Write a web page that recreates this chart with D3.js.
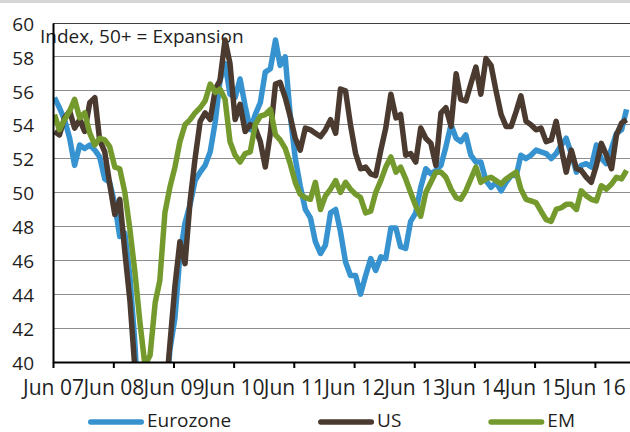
<!DOCTYPE html>
<html>
<head>
<meta charset="utf-8">
<script src="https://cdn.jsdelivr.net/npm/d3@7"></script>
<style>
  body { margin: 0; background: #fff; }
  svg { display: block; font-family: "Open Sans", sans-serif; }
</style>
</head>
<body>
<svg id="chart" width="630" height="432"></svg>
<script>
// monthly PMI readings, Jun 2007 .. Dec 2016
const firstMonth = new Date(2007, 5, 10);

const eurozone = [
  55.6, 55.0, 54.3, 53.2, 51.6, 52.8, 52.6, 52.8, 52.5, 52.1,
  50.8, 50.6, 49.3, 47.4, 47.6, 45.0, 41.1, 35.6, 33.9, 34.4,
  33.5, 33.9, 36.8, 40.7, 42.6, 46.3, 48.2, 49.3, 50.7, 51.2,
  51.6, 52.4, 54.2, 56.6, 57.6, 55.8, 55.6, 56.7, 55.1, 53.7,
  54.6, 55.3, 57.1, 57.3, 59.0, 57.5, 58.0, 54.6, 52.0, 50.4,
  49.0, 48.5, 47.1, 46.4, 46.9, 48.8, 49.0, 47.7, 45.9, 45.1,
  45.1, 44.0, 45.1, 46.1, 45.4, 46.2, 46.1, 47.9, 47.9, 46.8,
  46.7, 48.3, 48.8, 50.3, 51.4, 51.1, 51.3, 51.6, 52.7, 54.0,
  53.2, 53.0, 53.4, 52.2, 51.8, 51.8, 50.7, 50.3, 50.6, 50.1,
  50.6, 51.0, 51.0, 52.2, 52.0, 52.2, 52.5, 52.4, 52.3, 52.0,
  52.3, 52.8, 53.2, 52.3, 51.2, 51.6, 51.7, 51.5, 52.8, 52.0,
  51.7, 52.6, 53.5, 53.7, 54.9
];

const us = [
  53.6, 53.4, 54.4, 54.8, 53.8, 54.3, 53.6, 55.3, 55.6, 53.1,
  52.4, 50.5, 48.7, 49.6, 46.5, 43.6, 39.6, 36.0, 33.5, 32.5,
  33.0, 34.5, 37.5, 41.0, 44.5, 47.1, 45.8, 49.5, 52.0, 54.2,
  54.7, 54.3, 56.1, 56.6, 59.0, 57.6, 54.3, 55.2, 53.6, 54.0,
  53.8, 53.0, 51.5, 53.5, 56.4, 56.5, 55.6, 54.5, 53.2, 52.5,
  53.8, 53.7, 53.5, 53.3, 53.7, 54.3, 53.5, 56.1, 56.0, 54.0,
  52.3, 51.4, 51.5, 51.1, 51.0, 52.5, 53.8, 55.8, 54.4, 54.6,
  52.2, 52.3, 51.8, 53.8, 53.2, 52.9, 51.6, 54.7, 55.0, 53.9,
  57.0, 55.5, 55.4, 56.4, 57.4, 55.8, 57.9, 57.5, 56.0, 54.6,
  53.9, 53.9, 54.8, 55.7, 54.2, 54.0, 53.7, 53.8, 53.0, 53.1,
  54.2, 52.6, 51.2, 52.5, 51.4, 51.3, 50.9, 50.6, 51.6, 52.9,
  52.2, 51.4, 53.4, 54.1, 54.3
];

const em = [
  54.6, 53.7, 54.3, 54.8, 55.5, 54.4, 54.7, 53.5, 52.8, 53.2,
  53.1, 52.7, 51.5, 51.4, 50.0, 47.8, 45.3, 42.3, 39.8, 40.4,
  43.5, 44.8, 48.8, 50.3, 51.5, 53.0, 54.0, 54.3, 54.7, 55.0,
  55.4, 56.4, 55.9, 56.1, 55.5, 53.0, 52.2, 51.8, 52.3, 52.4,
  54.0, 54.5, 54.6, 54.9, 53.4, 53.1, 52.6, 51.7, 50.6, 49.9,
  49.7, 49.6, 50.6, 49.0, 49.8, 50.2, 50.7, 50.0, 50.6, 50.2,
  49.9, 49.7, 48.8, 48.9, 50.0, 50.7, 51.5, 52.1, 51.2, 51.5,
  50.8, 50.0, 49.2, 48.6, 50.0, 50.6, 51.2, 51.2, 50.9, 50.2,
  49.7, 49.6, 50.1, 50.8, 51.5, 50.6, 50.8, 50.9, 50.7, 50.5,
  50.8, 51.0, 51.2, 50.2, 49.6, 49.5, 49.4, 48.9, 48.4, 48.3,
  49.0, 49.1, 49.3, 49.3, 49.0, 50.1, 49.8, 49.6, 49.5, 50.4,
  50.2, 50.5, 50.9, 50.8, 51.3
];

const seriesNames = ["Eurozone", "US", "EM"];
const seriesColors = ["#3793d0", "#4b3a2f", "#749a2d"];
const xTickLabels = ["Jun 07", "Jun 08", "Jun 09", "Jun 10", "Jun 11", "Jun 12", "Jun 13", "Jun 14", "Jun 15", "Jun 16"];
const yTickValues = [40, 42, 44, 46, 48, 50, 52, 54, 56, 58, 60];
const axisTitle = "Index, 50+ = Expansion";

const width = 630;
const height = 432;
const margin = { top: 23, right: 0, bottom: 70, left: 53 };
const textColor = "#1e1e1e";

const svg = d3.select("#chart");

const series = [eurozone, us, em].map((values, k) => ({
  name: seriesNames[k],
  color: seriesColors[k],
  points: values.map((v, i) => ({ date: d3.timeMonth.offset(firstMonth, i), value: v }))
}));

const x = d3
  .scaleTime()
  .domain([new Date(2007, 5, 1), new Date(2016, 11, 31)])
  .range([margin.left, width - margin.right]);

const y = d3
  .scaleLinear()
  .domain([40, 60])
  .range([height - margin.bottom, margin.top]);

const xTickDates = xTickLabels.map((d, i) => new Date(2007 + i, 5, 1));

// thin grey strip along the top
svg.append("rect")
  .attr("x", 0).attr("y", 0)
  .attr("width", width).attr("height", 3)
  .attr("fill", "#d6d6d6");

// gridlines (the 60 line doubles as the frame)
svg.append("g")
  .selectAll("line")
  .data(yTickValues.filter((d) => d > 40))
  .join("line")
  .attr("x1", margin.left)
  .attr("x2", width - margin.right)
  .attr("y1", (d) => y(d))
  .attr("y2", (d) => y(d))
  .attr("stroke", (d) => (d === 60 ? "#404040" : "#8d8d8d"))
  .attr("stroke-width", 1)
  .attr("shape-rendering", "crispEdges");

svg.append("text")
  .attr("x", 40)
  .attr("y", 43)
  .attr("font-size", 19)
  .attr("fill", textColor)
  .text(axisTitle);

svg.append("clipPath")
  .attr("id", "plotClip")
  .append("rect")
  .attr("x", margin.left)
  .attr("y", 0)
  .attr("width", width - margin.left)
  .attr("height", y(40));

const line = d3
  .line()
  .x((d) => x(d.date))
  .y((d) => y(d.value));

svg.append("g")
  .attr("clip-path", "url(#plotClip)")
  .selectAll("path")
  .data(series)
  .join("path")
  .attr("fill", "none")
  .attr("stroke", (d) => d.color)
  .attr("stroke-width", 5.5)
  .attr("stroke-linejoin", "round")
  .attr("d", (d) => line(d.points));

// y axis
const yAxis = svg.append("g")
  .attr("transform", `translate(${margin.left},0)`)
  .call(d3.axisLeft(y).tickValues(yTickValues).tickSize(0).tickPadding(19).tickFormat(d3.format("d")));
yAxis.select(".domain").attr("stroke", "#000").attr("stroke-width", 2);
yAxis.selectAll("text")
  .attr("font-size", 19)
  .attr("font-family", "Open Sans")
  .attr("fill", textColor)
  .attr("dy", "0.38em");

// x axis
const xAxis = svg.append("g")
  .attr("transform", `translate(0,${y(40)})`)
  .call(
    d3.axisBottom(x)
      .tickValues(xTickDates)
      .tickSize(6)
      .tickSizeOuter(0)
      .tickFormat((d, i) => xTickLabels[i])
  );
xAxis.select(".domain").attr("stroke", "#000").attr("stroke-width", 2);
xAxis.selectAll(".tick line").attr("stroke", "#000").attr("stroke-width", 2);
xAxis.selectAll("text")
  .attr("font-size", 21)
  .attr("font-family", "Open Sans")
  .attr("fill", textColor)
  .attr("y", 33)
  .attr("dy", 0);

// legend
const legend = svg.append("g").attr("transform", "translate(0,422)");
let lx = 88;
series.forEach((s) => {
  legend.append("line")
    .attr("x1", lx + 2.75).attr("x2", lx + 53.25)
    .attr("y1", 0).attr("y2", 0)
    .attr("stroke", s.color)
    .attr("stroke-width", 5.5)
    .attr("stroke-linecap", "round");
  const t = legend.append("text")
    .attr("x", lx + 59)
    .attr("y", 4.5)
    .attr("font-size", 19)
    .attr("fill", textColor)
    .text(s.name);
  lx = lx + 59 + t.node().getComputedTextLength() + 87;
});
</script>
</body>
</html>
